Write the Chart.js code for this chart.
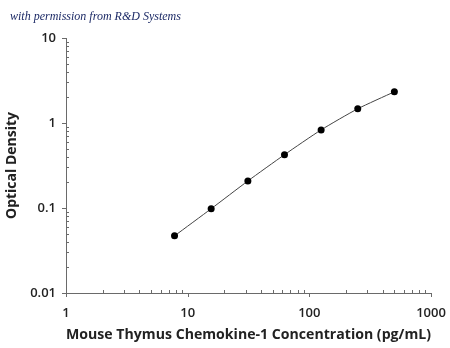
<!DOCTYPE html>
<html>
<head>
<meta charset="utf-8">
<script src="https://cdn.jsdelivr.net/npm/chart.js@4.4.1/dist/chart.umd.min.js"></script>
<style>
html,body{margin:0;padding:0;background:#fff;}
#wrap{width:450px;height:348px;position:relative;}
</style>
</head>
<body>
<div id="wrap"><canvas id="c" width="450" height="348"></canvas></div>
<script>
const concentrations = [7.8, 15.6, 31.25, 62.5, 125, 250, 500];
const opticalDensity = [0.047, 0.098, 0.208, 0.424, 0.83, 1.47, 2.33];
const xTickLabels = [1, 10, 100, 1000];
const yTickLabels = [0.01, 0.1, 1, 10];
const headerText = 'with permission from R&D Systems';
const xTitle = 'Mouse Thymus Chemokine-1 Concentration (pg/mL)';
const yTitle = 'Optical Density';

const axisColor = '#6a6a6a';
const textColor = '#222222';

const tickPlugin = {
  id: 'logTicks',
  afterDraw(chart) {
    const ctx = chart.ctx;
    const xs = chart.scales.x, ys = chart.scales.y;
    const area = chart.chartArea;
    ctx.save();
    ctx.strokeStyle = axisColor;
    ctx.lineWidth = 1;
    ctx.beginPath();
    xTickLabels.forEach((v, i) => {
      const px = Math.round(xs.getPixelForValue(v)) + 0.5;
      ctx.moveTo(px, area.bottom); ctx.lineTo(px, area.bottom + 4);
      if (i < xTickLabels.length - 1) {
        for (let m = 2; m <= 9; m++) {
          const p = Math.round(xs.getPixelForValue(v * m)) + 0.5;
          ctx.moveTo(p, area.bottom); ctx.lineTo(p, area.bottom - 3);
        }
      }
    });
    yTickLabels.forEach((v, i) => {
      const py = Math.round(ys.getPixelForValue(v)) + 0.5;
      ctx.moveTo(area.left - 4, py); ctx.lineTo(area.left, py);
      if (i < yTickLabels.length - 1) {
        for (let m = 2; m <= 9; m++) {
          const p = Math.round(ys.getPixelForValue(v * m)) + 0.5;
          ctx.moveTo(area.left, p); ctx.lineTo(area.left + 3, p);
        }
      }
    });
    ctx.stroke();
    ctx.fillStyle = '#1c2a66';
    ctx.font = 'italic 12px "Liberation Serif", serif';
    ctx.textBaseline = 'alphabetic';
    ctx.fillText(headerText, 10, 20);
    ctx.restore();
  }
};

new Chart(document.getElementById('c'), {
  type: 'line',
  data: {
    datasets: [{
      data: concentrations.map((x, i) => ({x: x, y: opticalDensity[i]})),
      borderColor: '#444444',
      borderWidth: 1,
      backgroundColor: '#000000',
      pointBackgroundColor: '#000000',
      pointBorderColor: '#000000',
      pointRadius: 3.5,
      pointBorderWidth: 0,
      tension: 0.2,
      fill: false
    }]
  },
  options: {
    responsive: false,
    animation: false,
    devicePixelRatio: 1,
    layout: {padding: {top: 38, right: 19, left: 0, bottom: 0}},
    plugins: {legend: {display: false}, tooltip: {enabled: false}, title: {display: false}},
    scales: {
      x: {
        type: 'logarithmic',
        min: 1, max: 1000,
        afterFit: s => { s.height = 55; s.paddingRight = 0; s.paddingLeft = 0; },
        grid: {display: false, drawTicks: false},
        border: {display: true, color: axisColor, width: 1},
        ticks: {
          autoSkip: false, maxRotation: 0, padding: 12, color: textColor,
          font: {family: '"Open Sans", sans-serif', size: 13, weight: '600'},
          callback: v => xTickLabels.includes(v) ? String(v) : null
        },
        title: {display: true, text: xTitle, color: textColor, padding: {top: 0, bottom: 4},
          font: {family: '"Open Sans", sans-serif', size: 14.6, weight: 'bold'}}
      },
      y: {
        type: 'logarithmic',
        min: 0.01, max: 10,
        afterFit: s => { s.width = 66; },
        grid: {display: false, drawTicks: false},
        border: {display: true, color: axisColor, width: 1},
        ticks: {
          autoSkip: false, padding: 10, color: textColor,
          font: {family: '"Open Sans", sans-serif', size: 13, weight: '600'},
          callback: v => yTickLabels.includes(v) ? String(v) : null
        },
        title: {display: true, text: yTitle, color: textColor, padding: {top: 4, bottom: 0},
          font: {family: '"Open Sans", sans-serif', size: 14, weight: 'bold'}}
      }
    }
  },
  plugins: [tickPlugin]
});
</script>
</body>
</html>
